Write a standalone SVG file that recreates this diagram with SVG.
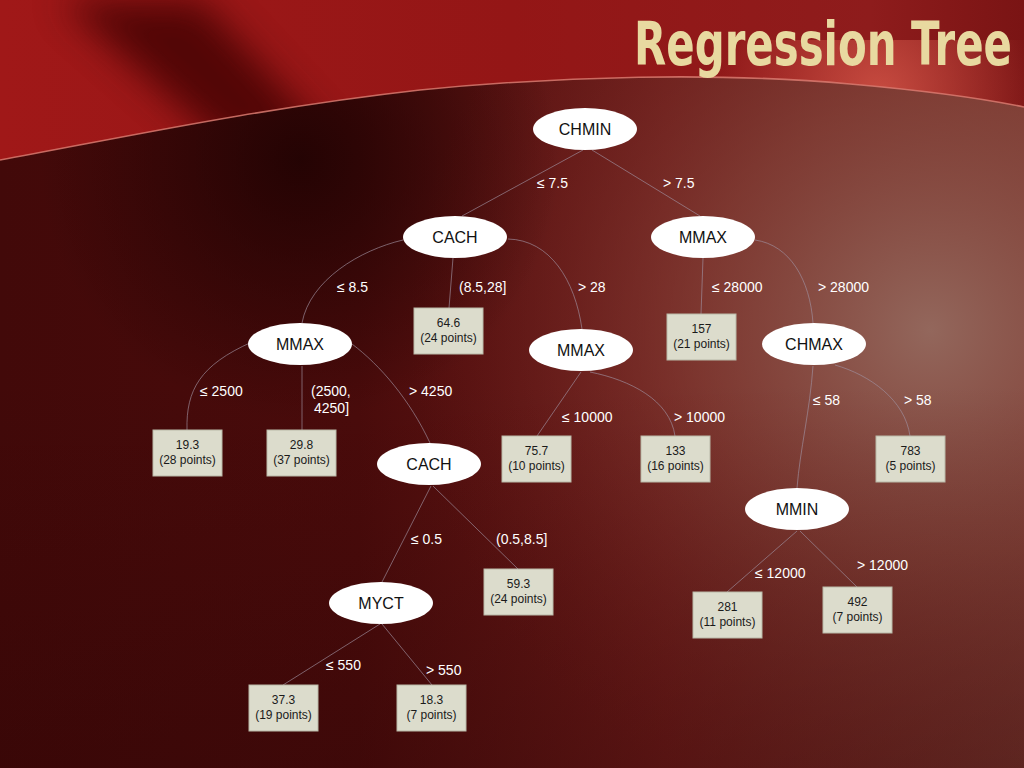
<svg xmlns="http://www.w3.org/2000/svg" width="1024" height="768" viewBox="0 0 1024 768">
<defs>
  <linearGradient id="bgBase" x1="0" y1="0" x2="1" y2="0">
    <stop offset="0" stop-color="#420909"/>
    <stop offset="0.35" stop-color="#4a0b0b"/>
    <stop offset="0.65" stop-color="#6e1c1a"/>
    <stop offset="1" stop-color="#7a3a32"/>
  </linearGradient>
  <radialGradient id="bgLight" cx="930" cy="330" r="520" gradientUnits="userSpaceOnUse">
    <stop offset="0" stop-color="#93675c" stop-opacity="1"/>
    <stop offset="0.45" stop-color="#86463c" stop-opacity="0.6"/>
    <stop offset="1" stop-color="#6a1a18" stop-opacity="0"/>
  </radialGradient>
  <linearGradient id="bgBottom" x1="0" y1="0" x2="0" y2="1">
    <stop offset="0.5" stop-color="#2a0404" stop-opacity="0"/>
    <stop offset="1" stop-color="#2a0404" stop-opacity="0.35"/>
  </linearGradient>
  <radialGradient id="darkSpot" cx="300" cy="160" r="260" gradientUnits="userSpaceOnUse">
    <stop offset="0" stop-color="#1e0202" stop-opacity="0.85"/>
    <stop offset="1" stop-color="#1e0202" stop-opacity="0"/>
  </radialGradient>
  <linearGradient id="hdr" x1="0" y1="0" x2="1" y2="0">
    <stop offset="0" stop-color="#a01818"/>
    <stop offset="0.5" stop-color="#941616"/>
    <stop offset="0.85" stop-color="#8e1c1c"/>
    <stop offset="1" stop-color="#7a1414"/>
  </linearGradient>
  <radialGradient id="hdrGlow" cx="880" cy="95" r="160" gradientUnits="userSpaceOnUse">
    <stop offset="0" stop-color="#e06050" stop-opacity="0.7"/>
    <stop offset="1" stop-color="#e06050" stop-opacity="0"/>
  </radialGradient>
  <filter id="blur" x="-20%" y="-20%" width="140%" height="140%">
    <feGaussianBlur stdDeviation="18"/>
  </filter>
  <clipPath id="hdrClip">
    <path d="M0,0 H1024 V107 C990,100 930,91 850,84 C720,72 560,76 420,90 C260,108 120,138 0,160 Z"/>
  </clipPath>
  <style>
    .node ellipse { fill: #ffffff; stroke: none; }
    .node text { font-family: "Liberation Sans", Arial, sans-serif; font-size: 16px; fill: #111111; text-anchor: middle; }
    .leaf rect { fill: #dcdccc; stroke: #b9b9a8; stroke-width: 1; }
    .leaf text { font-family: "Liberation Sans", Arial, sans-serif; font-size: 12px; fill: #1a1a1a; text-anchor: middle; }
    .edges path { fill: none; stroke: #a090a0; stroke-opacity: 0.65; stroke-width: 1; }
    .lbl text { font-family: "Liberation Sans", Arial, sans-serif; font-size: 14px; fill: #ffffff; }
    .title { font-family: "DejaVu Sans Condensed", "DejaVu Sans", "Liberation Sans", sans-serif; font-weight: bold; font-size: 60px; fill: #e8d9a0; }
  </style>
</defs>

<!-- background -->
<rect x="0" y="0" width="1024" height="768" fill="url(#bgBase)"/>
<rect x="0" y="0" width="1024" height="768" fill="url(#bgLight)"/>
<rect x="0" y="0" width="1024" height="768" fill="url(#darkSpot)"/>
<rect x="0" y="0" width="1024" height="768" fill="url(#bgBottom)"/>

<!-- header band -->
<g clip-path="url(#hdrClip)">
  <rect x="0" y="0" width="1024" height="170" fill="url(#hdr)"/>
  <polygon points="60,0 200,0 330,140 230,150" fill="#3a0505" opacity="0.75" filter="url(#blur)"/>
  <rect x="700" y="40" width="324" height="80" fill="url(#hdrGlow)"/>
</g>
<path d="M0,160 C120,138 260,108 420,90 C560,76 720,72 850,84 C930,91 990,100 1024,107" fill="none" stroke="#d87a70" stroke-width="1.6" stroke-opacity="0.85"/>

<text class="title" transform="translate(634,65) scale(0.75,1)" x="0" y="0" textLength="504" lengthAdjust="spacingAndGlyphs">Regression Tree</text>

<!-- connectors -->
<g id="connectors" class="edges">
  <path d="M583,150 L462,216"/>
  <path d="M592,150 L700,216"/>
  <path d="M403,240 C360,250 310,280 302,323"/>
  <path d="M453,258 L449,308"/>
  <path d="M508,239 C550,240 575,280 582,329"/>
  <path d="M703,258 L701,314"/>
  <path d="M755,240 C790,245 810,280 813,323"/>
  <path d="M252,342 C200,365 186,390 187,430"/>
  <path d="M302,366 L302,430"/>
  <path d="M352,344 C380,365 410,400 430,443"/>
  <path d="M581,372 L537,436"/>
  <path d="M590,372 C630,380 670,400 675,436"/>
  <path d="M813,366 C810,410 800,450 797,488"/>
  <path d="M835,365 C870,375 905,400 910,436"/>
  <path d="M431,486 L382,582"/>
  <path d="M433,486 L518,569"/>
  <path d="M380,624 L283,685"/>
  <path d="M382,624 L432,685"/>
  <path d="M797,531 L727,592"/>
  <path d="M800,531 L857,587"/>
</g>

<!-- edge labels -->
<g id="edge-labels" class="lbl">
  <text x="537" y="188">≤ 7.5</text>
  <text x="663" y="188">&gt; 7.5</text>
  <text x="337" y="292">≤ 8.5</text>
  <text x="459" y="292">(8.5,28]</text>
  <text x="578" y="292">&gt; 28</text>
  <text x="712" y="292">≤ 28000</text>
  <text x="818" y="292">&gt; 28000</text>
  <text x="200" y="396">≤ 2500</text>
  <text x="311" y="396">(2500,</text>
  <text x="314" y="413">4250]</text>
  <text x="409" y="396">&gt; 4250</text>
  <text x="562" y="422">≤ 10000</text>
  <text x="674" y="422">&gt; 10000</text>
  <text x="813" y="405">≤ 58</text>
  <text x="904" y="405">&gt; 58</text>
  <text x="411" y="544">≤ 0.5</text>
  <text x="496" y="544">(0.5,8.5]</text>
  <text x="755" y="578">≤ 12000</text>
  <text x="857" y="570">&gt; 12000</text>
  <text x="326" y="670">≤ 550</text>
  <text x="426" y="675">&gt; 550</text>
</g>

<!-- decision nodes -->
<g id="n-chmin" class="node"><ellipse cx="585" cy="129" rx="52" ry="21"/><text x="585" y="135">CHMIN</text></g>
<g id="n-cach1" class="node"><ellipse cx="455" cy="237" rx="52" ry="21"/><text x="455" y="243">CACH</text></g>
<g id="n-mmax1" class="node"><ellipse cx="703" cy="237" rx="52" ry="21"/><text x="703" y="243">MMAX</text></g>
<g id="n-mmax2" class="node"><ellipse cx="300" cy="344" rx="52" ry="21"/><text x="300" y="350">MMAX</text></g>
<g id="n-mmax3" class="node"><ellipse cx="581" cy="350" rx="52" ry="21"/><text x="581" y="356">MMAX</text></g>
<g id="n-chmax" class="node"><ellipse cx="814" cy="344" rx="52" ry="21"/><text x="814" y="350">CHMAX</text></g>
<g id="n-cach2" class="node"><ellipse cx="429" cy="464" rx="52" ry="21"/><text x="429" y="470">CACH</text></g>
<g id="n-mmin" class="node"><ellipse cx="797" cy="509" rx="52" ry="21"/><text x="797" y="515">MMIN</text></g>
<g id="n-myct" class="node"><ellipse cx="381" cy="603" rx="52" ry="21"/><text x="381" y="609">MYCT</text></g>

<!-- leaves -->
<g id="l-646" class="leaf"><rect x="414" y="308" width="69" height="46"/><text x="448.5" y="327">64.6</text><text x="448.5" y="342">(24 points)</text></g>
<g id="l-193" class="leaf"><rect x="153" y="430" width="69" height="46"/><text x="187.5" y="449">19.3</text><text x="187.5" y="464">(28 points)</text></g>
<g id="l-298" class="leaf"><rect x="267" y="430" width="69" height="46"/><text x="301.5" y="449">29.8</text><text x="301.5" y="464">(37 points)</text></g>
<g id="l-757" class="leaf"><rect x="502" y="436" width="69" height="46"/><text x="536.5" y="455">75.7</text><text x="536.5" y="470">(10 points)</text></g>
<g id="l-133" class="leaf"><rect x="641" y="436" width="69" height="46"/><text x="675.5" y="455">133</text><text x="675.5" y="470">(16 points)</text></g>
<g id="l-783" class="leaf"><rect x="876" y="436" width="69" height="46"/><text x="910.5" y="455">783</text><text x="910.5" y="470">(5 points)</text></g>
<g id="l-157" class="leaf"><rect x="667" y="314" width="69" height="46"/><text x="701.5" y="333">157</text><text x="701.5" y="348">(21 points)</text></g>
<g id="l-281" class="leaf"><rect x="693" y="592" width="69" height="46"/><text x="727.5" y="611">281</text><text x="727.5" y="626">(11 points)</text></g>
<g id="l-492" class="leaf"><rect x="823" y="587" width="69" height="46"/><text x="857.5" y="606">492</text><text x="857.5" y="621">(7 points)</text></g>
<g id="l-593" class="leaf"><rect x="484" y="569" width="69" height="46"/><text x="518.5" y="588">59.3</text><text x="518.5" y="603">(24 points)</text></g>
<g id="l-373" class="leaf"><rect x="249" y="685" width="69" height="46"/><text x="283.5" y="704">37.3</text><text x="283.5" y="719">(19 points)</text></g>
<g id="l-183" class="leaf"><rect x="397" y="685" width="69" height="46"/><text x="431.5" y="704">18.3</text><text x="431.5" y="719">(7 points)</text></g>
</svg>
